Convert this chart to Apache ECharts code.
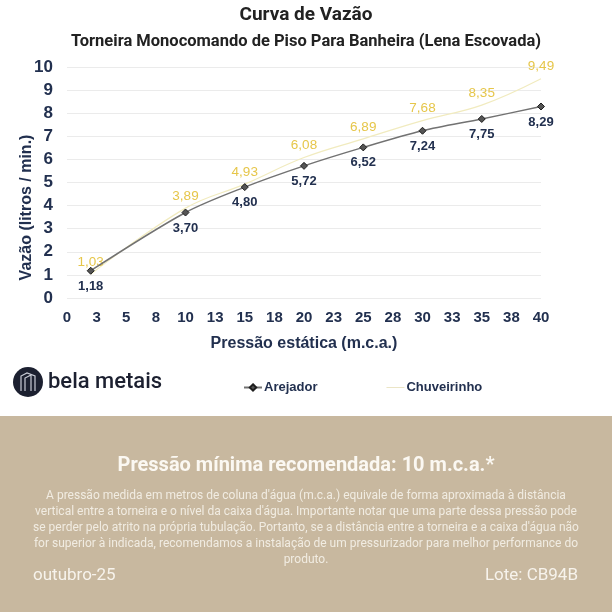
<!DOCTYPE html>
<html><head><meta charset="utf-8">
<script src="https://cdn.jsdelivr.net/npm/echarts@6/dist/echarts.min.js"></script>
<style>html,body{margin:0;padding:0;background:#fff}#c{width:612px;height:612px}</style>
</head><body><div id="c"></div>
<script>
const pressures = [2, 10, 15, 20, 25, 30, 35, 40];
const arejador = [1.18, 3.70, 4.80, 5.72, 6.52, 7.24, 7.75, 8.29];
const chuveirinho = [1.03, 3.89, 4.93, 6.08, 6.89, 7.68, 8.35, 9.49];
const seriesNames = ['Arejador', 'Chuveirinho'];
const titleText = 'Curva de Vazão';
const subtitleText = 'Torneira Monocomando de Piso Para Banheira (Lena Escovada)';
const noteTitle = 'Pressão mínima recomendada: 10 m.c.a.*';
const noteLines = [
  'A pressão medida em metros de coluna d\'água (m.c.a.) equivale de forma aproximada à distância',
  'vertical entre a torneira e o nível da caixa d\'água. Importante notar que uma parte dessa pressão pode',
  'se perder pelo atrito na própria tubulação. Portanto, se a distância entre a torneira e a caixa d\'água não',
  'for superior à indicada, recomendamos a instalação de um pressurizador para melhor performance do',
  'produto.'
];
const footLeft = 'outubro-25';
const footRight = 'Lote: CB94B';

const navy = '#22304f';
const fmt = v => v.toFixed(2).replace('.', ',');
const chart = echarts.init(document.getElementById('c'), null, {renderer: 'canvas'});

const graphics = [
  {type: 'rect', shape: {x: 0, y: 416, width: 612, height: 196}, style: {fill: '#c8b89f'}, z: -1},
  {type: 'text', x: 306, y: 466, style: {text: noteTitle, fill: '#fbf8f2', font: 'bold 20px Roboto', align: 'center', verticalAlign: 'middle'}},
  {type: 'text', x: 33, y: 576, style: {text: footLeft, fill: '#f7f3ec', font: '17px Roboto', align: 'left', verticalAlign: 'middle'}},
  {type: 'text', x: 578, y: 576, style: {text: footRight, fill: '#f7f3ec', font: '17px Roboto', align: 'right', verticalAlign: 'middle'}},
  {type: 'circle', shape: {cx: 28, cy: 382, r: 15}, style: {fill: '#1c2030'}},
  {type: 'polyline', shape: {points: [[21,391],[21,376],[27,373],[35,376],[35,391]]}, style: {stroke: '#c9ccd6', lineWidth: 1.2, fill: null}},
  {type: 'polyline', shape: {points: [[25,391],[25,378],[31,375],[31,391]]}, style: {stroke: '#c9ccd6', lineWidth: 1.2, fill: null}},
  {type: 'text', x: 48, y: 382, style: {text: 'bela metais', fill: '#1c2030', font: '500 22px Roboto', align: 'left', verticalAlign: 'middle'}}
];
noteLines.forEach((t, i) => graphics.push({type: 'text', x: 306, y: 496 + i * 16, style: {text: t, fill: '#f1ece2', font: '12px Roboto', align: 'center', verticalAlign: 'middle'}}));

chart.setOption({
  backgroundColor: '#fff',
  animation: false,
  title: [
    {text: titleText, left: 'center', top: 1, textStyle: {fontFamily: 'Roboto', fontWeight: 'bold', fontSize: 19, color: '#222'}},
    {text: subtitleText, left: 'center', top: 28, textStyle: {fontFamily: 'Roboto', fontWeight: 'bold', fontSize: 16.5, color: '#222'}}
  ],
  legend: {
    left: 238, top: 376, itemWidth: 18, itemHeight: 8, itemGap: 69,
    data: [
      {name: seriesNames[0]},
      {name: seriesNames[1], icon: 'path://M0,0L20,0L20,1L0,1Z', itemStyle: {color: '#e9e2c0'}}
    ],
    textStyle: {fontFamily: 'Liberation Sans', fontWeight: 'bold', fontSize: 13, color: navy, padding: [0,0,0,-3]}
  },
  grid: {left: 67, right: 71, top: 67, bottom: 314, containLabel: false},
  xAxis: {
    type: 'value', min: 0, max: 40, interval: 2.5,
    name: 'Pressão estática (m.c.a.)', nameLocation: 'middle', nameGap: 38,
    nameTextStyle: {fontFamily: 'Liberation Sans', fontWeight: 'bold', fontSize: 16, color: navy},
    axisLine: {show: false}, axisTick: {show: false}, splitLine: {show: false},
    axisLabel: {margin: 12, formatter: v => String(Math.round(v)), fontFamily: 'Liberation Sans', fontWeight: 'bold', fontSize: 15, color: navy}
  },
  yAxis: {
    type: 'value', min: 0, max: 10, interval: 1,
    name: 'Vazão (litros / min.)', nameLocation: 'middle', nameGap: 32, nameMoveOverlap: false,
    nameTextStyle: {fontFamily: 'Liberation Sans', fontWeight: 'bold', fontSize: 16, color: navy, padding: [0, 50, 0, 0]},
    axisLine: {show: false}, axisTick: {show: false},
    splitLine: {lineStyle: {color: '#ebebeb', width: 1}},
    axisLabel: {margin: 14, fontFamily: 'Liberation Sans', fontWeight: 'bold', fontSize: 17, color: navy}
  },
  series: [
    {
      name: seriesNames[1], type: 'line', smooth: 0.4, showSymbol: true, symbol: 'circle', symbolSize: 2,
      data: pressures.map((p, i) => [p, chuveirinho[i]]),
      lineStyle: {color: '#f1ebbf', width: 1.2}, itemStyle: {color: 'rgba(0,0,0,0)', borderWidth: 0},
      label: {show: true, position: 'top', distance: 4, formatter: p => fmt(p.value[1]), fontFamily: 'Liberation Sans', fontSize: 13.5, color: '#e6c64a'},
      labelLayout: {hideOverlap: false},
      z: 2
    },
    {
      name: seriesNames[0], type: 'line', smooth: 0.3, symbol: 'diamond', symbolSize: 7,
      data: pressures.map((p, i) => [p, arejador[i]]),
      lineStyle: {color: '#727272', width: 1.5},
      itemStyle: {color: '#555', borderColor: '#1e1e1e', borderWidth: 1},
      label: {show: true, position: 'bottom', distance: 5, formatter: p => fmt(p.value[1]), fontFamily: 'Liberation Sans', fontWeight: 'bold', fontSize: 13, color: navy},
      z: 3
    }
  ],
  graphic: graphics
});
</script></body></html>
